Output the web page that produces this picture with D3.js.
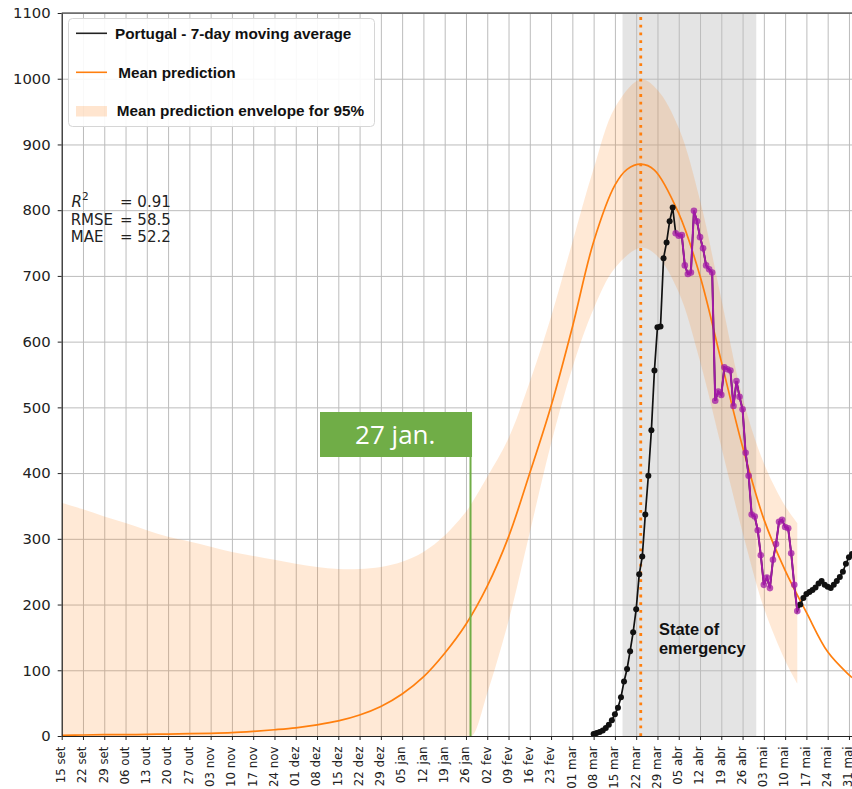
<!DOCTYPE html>
<html>
<head>
<meta charset="utf-8">
<script src="https://cdn.jsdelivr.net/npm/d3@7"></script>
<style>
  body { margin: 0; background: #fff; }
  svg { display: block; }
</style>
</head>
<body>
<script>
// Canvas constants
const w = 852;
const h = 789;
const plot = { left: 61.7, right: 852, top: 13, bottom: 736 };

// Weekly x tick labels (portuguese month names), starting 15 set 2019
const tickStart = "2019-09-15";
const tickLabels = ["15 set", "22 set", "29 set", "06 out", "13 out", "20 out", "27 out",
  "03 nov", "10 nov", "17 nov", "24 nov", "01 dez", "08 dez", "15 dez", "22 dez", "29 dez",
  "05 jan", "12 jan", "19 jan", "26 jan", "02 fev", "09 fev", "16 fev", "23 fev",
  "01 mar", "08 mar", "15 mar", "22 mar", "29 mar", "05 abr", "12 abr", "19 abr", "26 abr",
  "03 mai", "10 mai", "17 mai", "24 mai", "31 mai"];
const yTicks = [0, 100, 200, 300, 400, 500, 600, 700, 800, 900, 1000, 1100];

// Mean prediction
const meanDates = ["2019-09-15", "2019-09-22", "2019-09-29", "2019-10-06", "2019-10-13", "2019-10-20",
  "2019-10-27", "2019-11-03", "2019-11-10", "2019-11-17", "2019-11-24", "2019-12-01", "2019-12-08",
  "2019-12-15", "2019-12-22", "2019-12-29", "2020-01-05", "2020-01-12", "2020-01-19", "2020-01-26",
  "2020-02-02", "2020-02-09", "2020-02-16", "2020-02-23", "2020-03-01", "2020-03-08", "2020-03-15",
  "2020-03-19", "2020-03-23T12:00Z", "2020-03-28", "2020-04-05", "2020-04-12", "2020-04-19",
  "2020-04-26", "2020-05-03", "2020-05-10", "2020-05-17", "2020-05-24", "2020-05-31", "2020-06-01"];
const meanValues = [1, 1.5, 2, 2, 2.5, 3, 3.5, 4, 5, 7, 9.5, 12.5, 17, 23, 32, 45, 64, 90, 126, 170,
  228, 303, 400, 502, 622, 752, 838, 862, 870, 861, 795, 700, 570, 440, 330, 252, 188, 128, 93, 89];

// 95% envelope
const envDates = ["2019-09-15", "2019-09-22", "2019-09-29", "2019-10-06", "2019-10-13", "2019-10-20",
  "2019-10-27", "2019-11-03", "2019-11-10", "2019-11-17", "2019-11-24", "2019-12-01", "2019-12-08",
  "2019-12-15", "2019-12-22", "2019-12-29", "2020-01-05", "2020-01-12", "2020-01-19", "2020-01-26",
  "2020-01-28", "2020-02-02", "2020-02-09", "2020-02-16", "2020-02-23", "2020-03-01", "2020-03-08",
  "2020-03-15", "2020-03-23T12:00Z", "2020-03-29", "2020-04-05", "2020-04-12", "2020-04-19",
  "2020-04-26", "2020-05-03", "2020-05-10", "2020-05-14"];
const envUpper = [355, 345, 334, 324, 313, 303, 296, 288, 280, 274, 268, 262, 257, 254, 254, 257,
  265, 280, 305, 341, 355, 394, 453, 539, 638, 751, 863, 956, 999, 983, 925, 815, 665, 515, 415, 350, 324];
const envLower = [0, 0, 0, 0, 0, 0, 0, 0, 0, 0, 0, 0, 0, 0, 0, 0, 0, 0, 0, 0,
  0, 65, 175, 310, 445, 560, 650, 712, 743, 730, 675, 570, 440, 310, 195, 115, 80];

// Portugal 7-day moving average (daily)
const casesStart = "2020-03-08";
const casesBefore = [3, 4.5, 6, 8.5, 12, 17, 24, 33, 43, 59, 83, 102, 129, 158, 193, 246, 273,
  337, 396, 465, 556, 622, 623, 727, 751, 783, 804];                     // 08 mar - 03 abr
const purpleValues = [765, 761, 762, 716, 703, 705, 799, 783, 759, 742, 716, 710, 705, 510, 524,
  519, 561, 558, 556, 502, 540, 516, 497, 431, 396, 337, 334, 313, 275, 230, 241, 225, 268, 292,
  326, 329, 318, 316, 278, 230, 190];                                   // 04 abr - 14 mai
const casesAfter = [200, 210, 216, 219, 222, 226, 232, 236, 230, 227, 225, 230, 236, 242, 250,
  262, 272, 277];                                                       // 15 mai - 01 jun

const emergencySpan = ["2020-03-17T12:00Z", "2020-04-30T12:00Z"];
const peakDate = "2020-03-23T12:00Z";
const annotationDate = "2020-01-27T12:00Z";

const parse = (s) => new Date(s.length === 10 ? s + "T00:00:00Z" : s);
const dayOffset = (s, n) => d3.utcDay.offset(parse(s), n);

// Scales
const x = d3.scaleUtc()
  .domain([parse("2019-09-15"), parse("2020-06-01")])
  .range([plot.left, plot.right]);
const y = d3.scaleLinear()
  .domain([0, 1100])
  .range([plot.bottom, plot.top]);

const svg = d3.select("body").append("svg")
  .attr("width", w)
  .attr("height", h);

svg.append("defs").append("clipPath").attr("id", "clip")
  .append("rect")
  .attr("x", plot.left).attr("y", plot.top)
  .attr("width", plot.right - plot.left).attr("height", plot.bottom - plot.top);

const inner = svg.append("g").attr("clip-path", "url(#clip)");

// State of emergency band
inner.append("rect")
  .attr("x", x(parse(emergencySpan[0])))
  .attr("y", plot.top)
  .attr("width", x(parse(emergencySpan[1])) - x(parse(emergencySpan[0])))
  .attr("height", plot.bottom - plot.top)
  .attr("fill", "#e4e4e4");

// Grid
const tickDates = tickLabels.map((d, i) => dayOffset(tickStart, 7 * i));

inner.append("g")
  .attr("transform", `translate(0,${plot.bottom})`)
  .call(d3.axisBottom(x).tickValues(tickDates).tickSize(-(plot.bottom - plot.top)).tickFormat(""))
  .call(g => g.select(".domain").remove())
  .selectAll("line").attr("stroke", "#bcbcbc").attr("stroke-width", 1);

inner.append("g")
  .attr("transform", `translate(${plot.left},0)`)
  .call(d3.axisLeft(y).tickValues(yTicks).tickSize(-(plot.right - plot.left)).tickFormat(""))
  .call(g => g.select(".domain").remove())
  .selectAll("line").attr("stroke", "#bcbcbc").attr("stroke-width", 1);

// Envelope
const envData = envDates.map((d, i) => ({ date: parse(d), hi: envUpper[i], lo: envLower[i] }));
inner.append("path")
  .datum(envData)
  .attr("fill", "#ff7f0e")
  .attr("fill-opacity", 0.17)
  .attr("d", d3.area()
    .x(d => x(d.date))
    .y0(d => y(d.lo))
    .y1(d => y(d.hi))
    .curve(d3.curveCatmullRom));

// Mean prediction
const meanData = meanDates.map((d, i) => ({ date: parse(d), v: meanValues[i] }));
inner.append("path")
  .datum(meanData)
  .attr("fill", "none")
  .attr("stroke", "#ff7f0e")
  .attr("stroke-width", 1.7)
  .attr("d", d3.line().x(d => x(d.date)).y(d => y(d.v)).curve(d3.curveCatmullRom));

// Peak date dotted line
inner.append("line")
  .attr("x1", x(parse(peakDate))).attr("x2", x(parse(peakDate)))
  .attr("y1", plot.bottom).attr("y2", plot.top)
  .attr("stroke", "#ff7f0e")
  .attr("stroke-width", 2.8)
  .attr("stroke-dasharray", "2.8,4.9");

// Cases series
const before = casesBefore.map((v, i) => ({ date: dayOffset(casesStart, i), v }));
const purple = purpleValues.map((v, i) => ({ date: dayOffset(casesStart, casesBefore.length + i), v }));
const after = casesAfter.map((v, i) => ({ date: dayOffset(casesStart, casesBefore.length + purpleValues.length + i), v }));
const line = d3.line().x(d => x(d.date)).y(d => y(d.v));

inner.append("path")
  .datum(before.concat(purple, after))
  .attr("fill", "none")
  .attr("stroke", "#111")
  .attr("stroke-width", 1.7)
  .attr("d", line);

inner.selectAll(".blackdot")
  .data(before.concat(after))
  .enter()
  .append("circle")
  .attr("class", "blackdot")
  .attr("cx", d => x(d.date))
  .attr("cy", d => y(d.v))
  .attr("r", 3)
  .attr("fill", "#111");

inner.append("path")
  .datum(purple)
  .attr("fill", "none")
  .attr("stroke", "#a21aa6")
  .attr("stroke-width", 2)
  .attr("d", line);

inner.selectAll(".purpledot")
  .data(purple)
  .enter()
  .append("circle")
  .attr("class", "purpledot")
  .attr("cx", d => x(d.date))
  .attr("cy", d => y(d.v))
  .attr("r", 3.3)
  .attr("fill", "#a21aa6")
  .attr("fill-opacity", 0.75);

// Axes
const xAxis = svg.append("g")
  .attr("transform", `translate(0,${plot.bottom})`)
  .call(d3.axisBottom(x).tickValues(tickDates).tickFormat((d, i) => tickLabels[i]).tickSize(4).tickSizeOuter(0));
xAxis.select(".domain").attr("stroke", "#222").attr("stroke-width", 1.2);
xAxis.selectAll("line").attr("stroke", "#222");
xAxis.selectAll("text")
  .attr("transform", "rotate(-90)")
  .attr("text-anchor", "end")
  .attr("x", -10.5)
  .attr("y", 0)
  .attr("dy", "0.24em")
  .attr("fill", "#222")
  .style("font-family", "'DejaVu Sans', sans-serif")
  .style("font-size", "11.8px");

const yAxis = svg.append("g")
  .attr("transform", `translate(${plot.left},0)`)
  .call(d3.axisLeft(y).tickValues(yTicks).tickFormat(d3.format("d")).tickSize(4).tickPadding(7).tickSizeOuter(0));
yAxis.select(".domain").attr("stroke", "#222").attr("stroke-width", 1.2);
yAxis.selectAll("line").attr("stroke", "#222");
yAxis.selectAll("text")
  .attr("fill", "#222")
  .style("font-family", "'DejaVu Sans', sans-serif")
  .style("font-size", "14.8px");

// Top spine
svg.append("line")
  .attr("x1", plot.left).attr("x2", plot.right)
  .attr("y1", plot.top).attr("y2", plot.top)
  .attr("stroke", "#222").attr("stroke-width", 1.2);

// 27 jan. annotation
const ax = x(parse(annotationDate));
svg.append("line")
  .attr("x1", ax).attr("x2", ax)
  .attr("y1", 456).attr("y2", plot.bottom)
  .attr("stroke", "#70ad47")
  .attr("stroke-width", 2);
svg.append("rect")
  .attr("x", 320).attr("y", 412)
  .attr("width", ax + 1.5 - 320).attr("height", 45)
  .attr("fill", "#70ad47");
svg.append("text")
  .attr("x", (320 + ax) / 2).attr("y", 444)
  .attr("text-anchor", "middle")
  .attr("fill", "#fff")
  .style("font-family", "'Open Sans', sans-serif")
  .style("font-size", "26px")
  .text("27 jan.");

// State of emergency label
const soe = svg.append("text")
  .style("font-family", "'Liberation Sans', Arial, sans-serif")
  .style("font-weight", "bold")
  .style("font-size", "16.4px")
  .attr("fill", "#111");
soe.append("tspan").attr("x", 659).attr("y", 635).text("State of");
soe.append("tspan").attr("x", 659).attr("y", 653.5).text("emergency");

// Fit statistics
const stats = svg.append("g")
  .style("font-family", "'DejaVu Sans', sans-serif")
  .style("font-size", "15px")
  .attr("fill", "#222");
const r2 = stats.append("text").attr("y", 207);
r2.append("tspan").attr("x", 71.5).style("font-style", "italic").text("R");
r2.append("tspan").attr("x", 82).attr("dy", -7).style("font-size", "10.5px").text("2");
r2.append("tspan").attr("x", 120).attr("dy", 7).text("= 0.91");
const rm = stats.append("text").attr("y", 224.5);
rm.append("tspan").attr("x", 70.7).text("RMSE");
rm.append("tspan").attr("x", 120).text("= 58.5");
const ma = stats.append("text").attr("y", 242);
ma.append("tspan").attr("x", 70.7).text("MAE");
ma.append("tspan").attr("x", 120).text("= 52.2");

// Legend
const legend = svg.append("g");
legend.append("rect")
  .attr("x", 68.5).attr("y", 18.5)
  .attr("width", 306).attr("height", 108)
  .attr("rx", 4)
  .attr("fill", "#fff").attr("fill-opacity", 0.9)
  .attr("stroke", "#d6d6d6");
legend.append("line")
  .attr("x1", 76).attr("x2", 107).attr("y1", 33.3).attr("y2", 33.3)
  .attr("stroke", "#222").attr("stroke-width", 1.6);
legend.append("line")
  .attr("x1", 76).attr("x2", 107).attr("y1", 72.3).attr("y2", 72.3)
  .attr("stroke", "#ff7f0e").attr("stroke-width", 1.6);
legend.append("rect")
  .attr("x", 76).attr("y", 106).attr("width", 31).attr("height", 10.5)
  .attr("fill", "#ff7f0e").attr("fill-opacity", 0.2);
const legendText = [
  { label: "Portugal - 7-day moving average", x: 115, y: 38.5 },
  { label: "Mean prediction", x: 118.3, y: 77.5 },
  { label: "Mean prediction envelope for 95%", x: 116.7, y: 115.5 }
];
legend.selectAll(".ltext")
  .data(legendText)
  .enter()
  .append("text")
  .attr("x", d => d.x)
  .attr("y", d => d.y)
  .style("font-family", "'Liberation Sans', Arial, sans-serif")
  .style("font-weight", "bold")
  .style("font-size", "15.3px")
  .attr("fill", "#111")
  .text(d => d.label);
</script>
</body>
</html>
